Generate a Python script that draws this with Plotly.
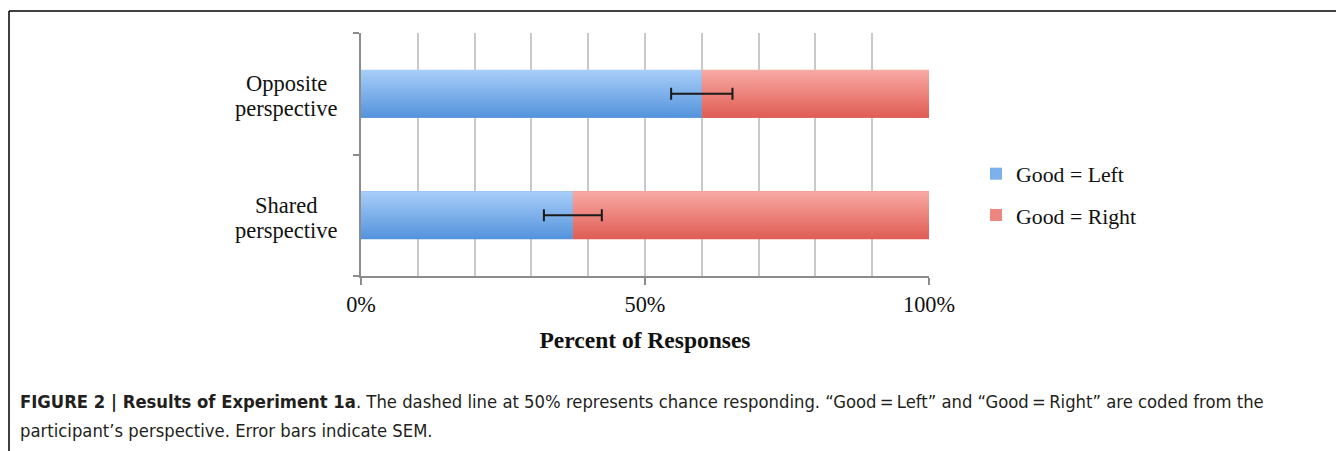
import plotly.graph_objects as go

# ---- data (bottom to top) ----
categories = ["Shared<br>perspective", "Opposite<br>perspective"]
good_left = [37.3, 60.0]
good_right = [62.7, 40.0]
sem_left = [5.1, 5.4]
series_names = ["Good = Left", "Good = Right"]
x_tick_vals = [0, 50, 100]
x_tick_text = ["0%", "50%", "100%"]
chance_level = 50
caption_lines = [
    "<b>FIGURE 2 | Results of Experiment 1a</b>. The dashed line at 50% represents chance responding. "
    "\u201cGood\u2009=\u2009Left\u201d and \u201cGood\u2009=\u2009Right\u201d are coded from the",
    "participant\u2019s perspective. Error bars indicate SEM.",
]

# ---- style ----
OFF = 8  # page body margin offset
W, H = 1344 - OFF, 451 - OFF
PL, PR, PT, PB = 361 - OFF, 929 - OFF, 33 - OFF, 276 - OFF  # plot area in figure px
PW, PH = PR - PL, PB - PT
SERIF = "Liberation Serif, Times New Roman, serif"
CAPTION_FONT = "DejaVu Sans Condensed, Arial Narrow, Arial, sans-serif"
BAR_HALF = 0.197
grad = {
    "Good = Left": ("#5393dc", "#a9cef9", "#7eb1ec"),
    "Good = Right": ("#df5c53", "#f9aaa5", "#ec8780"),
}


def px_x(xpage):
    return (xpage - OFF - PL) / PW


def px_y(ypage):
    return (PB - (ypage - OFF)) / PH


fig = go.Figure()
ypos = list(range(len(categories)))
series_vals = [good_left, good_right]

# base bars (legend + structure)
for name, vals in zip(series_names, series_vals):
    fig.add_trace(go.Bar(
        x=vals, y=ypos, orientation="h", name=name, width=2 * BAR_HALF,
        marker=dict(color=grad[name][2], line=dict(width=0)),
        legendgroup=name,
    ))

# gradient overlays computed from the same data
starts = [0.0] * len(categories)
for name, vals in zip(series_names, series_vals):
    for i, v in enumerate(vals):
        x0, x1 = starts[i], starts[i] + v
        yl, yh = ypos[i] - BAR_HALF, ypos[i] + BAR_HALF
        fig.add_trace(go.Scatter(
            x=[x0, x1, x1, x0, x0], y=[yl, yl, yh, yh, yl],
            mode="lines", line=dict(width=0), fill="toself",
            fillgradient=dict(type="vertical",
                              colorscale=[[0, grad[name][0]], [1, grad[name][1]]]),
            showlegend=False, hoverinfo="skip",
        ))
        starts[i] = x1

# error bars on the Good = Left segment
fig.add_trace(go.Scatter(
    x=good_left, y=ypos, mode="markers",
    marker=dict(size=1, color="rgba(0,0,0,0)"),
    error_x=dict(type="data", array=sem_left, visible=True,
                 color="#1a1a1a", thickness=2, width=6),
    showlegend=False, hoverinfo="skip",
))

# chance line (behind bars)
for col, wd, dash in [("white", 2.5, "solid"), ("#8a8a8a", 2, "dash")]:
    fig.add_shape(type="line", xref="x", yref="paper", x0=chance_level, x1=chance_level,
                  y0=0, y1=1, layer="below", line=dict(color=col, width=wd, dash=dash))

# category labels (centered, two lines each)
LINE_GAP = 25
for i, c in enumerate(categories):
    lines = c.split("<br>")
    n = len(lines)
    for k, ln in enumerate(lines):
        fig.add_annotation(text=ln, x=px_x(286), xref="paper", y=ypos[i], yref="y",
                           xanchor="center", yanchor="middle", showarrow=False,
                           yshift=((n - 1) / 2 - k) * LINE_GAP - 2.5,
                           font=dict(family=SERIF, size=22.5, color="#111"))

# frame lines
fig.add_shape(type="line", xref="paper", yref="paper", x0=px_x(9), x1=px_x(1400),
              y0=px_y(11), y1=px_y(11), line=dict(color="black", width=1.5))
fig.add_shape(type="line", xref="paper", yref="paper", x0=px_x(9), x1=px_x(9),
              y0=px_y(11), y1=px_y(470), line=dict(color="black", width=1.5))

# caption (two lines)
for k, (txt, yc) in enumerate(zip(caption_lines, [401, 431])):
    fig.add_annotation(
        text=txt, x=px_x(18), xref="paper", xanchor="left",
        y=px_y(yc), yref="paper", yanchor="middle",
        align="left", showarrow=False,
        font=dict(family=CAPTION_FONT, size=18.3, color="#231f20"),
    )

fig.update_layout(
    width=W, height=H,
    margin=dict(l=PL, r=W - PR, t=PT, b=H - PB, pad=0),
    paper_bgcolor="white", plot_bgcolor="white",
    barmode="stack",
    showlegend=True,
    legend=dict(x=px_x(976), xanchor="left", y=px_y(153), yanchor="top",
                font=dict(family=SERIF, size=21.8, color="#111"),
                traceorder="grouped", tracegroupgap=10, bgcolor="rgba(0,0,0,0)",
                itemwidth=30),
    xaxis=dict(
        range=[0, 100], tickvals=x_tick_vals, ticktext=x_tick_text,
        ticks="outside", ticklen=7, tickcolor="#8c8c8c", tickwidth=2,
        showline=True, linecolor="#8c8c8c", linewidth=2,
        showgrid=True, gridcolor="#c9c9c9", gridwidth=1.5,
        minor=dict(dtick=10, tick0=0, showgrid=True, gridcolor="#c9c9c9", gridwidth=1.5),
        tickfont=dict(family=SERIF, size=22.3, color="#111"),
        ticklabelstandoff=0,
        title=dict(text="<b>Percent of Responses</b>", standoff=16,
                   font=dict(family=SERIF, size=23.5, color="#111")),
        zeroline=False, fixedrange=True,
    ),
    yaxis=dict(
        range=[-0.5, 1.5], tickvals=ypos, ticktext=["", ""], ticks="",
        showline=True, linecolor="#8c8c8c", linewidth=2,
        showgrid=False, zeroline=False,
        minor=dict(tickvals=[-0.5, 0.5, 1.5], ticks="outside", ticklen=6,
                   tickcolor="#8c8c8c", tickwidth=2, showgrid=False),
        fixedrange=True,
    ),
)

fig.write_html(
    "out.html",
    post_script="document.documentElement.style.overflow='hidden';document.body.style.overflow='hidden';",
)
